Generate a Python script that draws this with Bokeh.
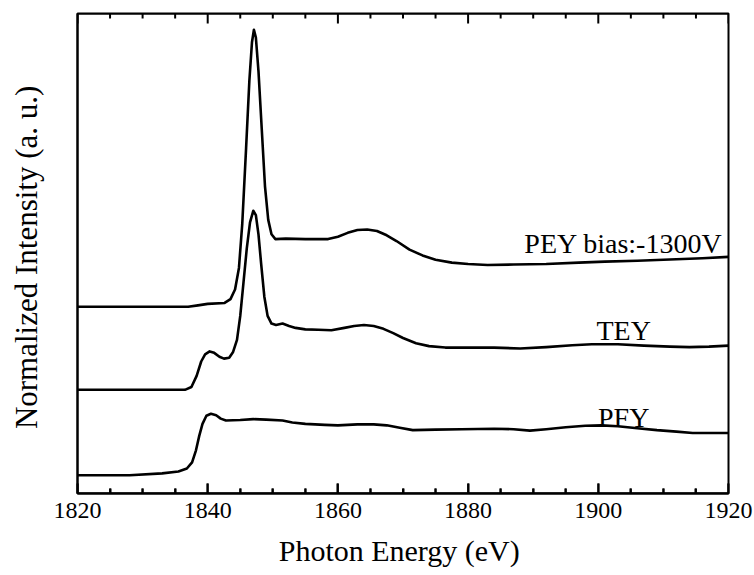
import math
from bokeh.plotting import figure
from bokeh.models import Range1d, FixedTicker, Label
from bokeh.embed import file_html
from bokeh.resources import INLINE

# ---- data (normalized intensity, fraction of plot height) ----
pey_x = [1820, 1837, 1838.5, 1840, 1842.6, 1843.5, 1844.2, 1844.8, 1845.3, 1845.9, 1846.4,
         1846.8, 1847.1, 1847.4, 1847.8, 1848.3, 1848.8, 1849.3, 1849.8, 1850.4, 1852, 1855,
         1858.5, 1860, 1861.5, 1863, 1864.5, 1866, 1867.5, 1869, 1871, 1873, 1875, 1877.5,
         1880, 1883, 1887, 1892, 1897, 1901, 1906, 1912, 1916, 1920]
pey_y = [0.389, 0.389, 0.392, 0.395, 0.397, 0.405, 0.425, 0.47, 0.56, 0.72, 0.86,
         0.94, 0.966, 0.95, 0.88, 0.76, 0.64, 0.57, 0.54, 0.53, 0.531, 0.530,
         0.530, 0.535, 0.543, 0.549, 0.550, 0.547, 0.538, 0.526, 0.508, 0.496, 0.487, 0.481,
         0.478, 0.476, 0.477, 0.478, 0.481, 0.483, 0.485, 0.488, 0.490, 0.493]

tey_x = [1820, 1836.5, 1837.5, 1838.3, 1839, 1839.6, 1840.3, 1841, 1841.8, 1842.5, 1843.3,
         1843.9, 1844.5, 1845, 1845.5, 1846, 1846.5, 1847.0, 1847.4, 1847.8, 1848.2, 1848.7,
         1849.2, 1849.8, 1850.5, 1851.5, 1852.5, 1853.5, 1855, 1857, 1859, 1861, 1862.5,
         1864, 1865.5, 1867, 1868.5, 1870, 1872, 1874, 1876.5, 1880, 1884, 1888, 1892,
         1896, 1899, 1903, 1907, 1911, 1914, 1917, 1920]
tey_y = [0.216, 0.216, 0.222, 0.245, 0.275, 0.29, 0.296, 0.293, 0.285, 0.281, 0.283,
         0.295, 0.32, 0.37, 0.44, 0.51, 0.565, 0.589, 0.58, 0.54, 0.48, 0.41,
         0.37, 0.354, 0.351, 0.354, 0.349, 0.345, 0.342, 0.341, 0.340, 0.345, 0.349,
         0.351, 0.349, 0.343, 0.334, 0.324, 0.313, 0.307, 0.304, 0.304, 0.304, 0.302, 0.305,
         0.309, 0.311, 0.311, 0.308, 0.306, 0.305, 0.306, 0.308]

pfy_x = [1820, 1828, 1833, 1835.5, 1836.8, 1837.6, 1838.2, 1838.7, 1839.2, 1839.8, 1840.5,
         1841.3, 1842, 1842.8, 1845, 1847, 1849, 1851.5, 1853, 1855, 1858, 1860, 1863,
         1865.5, 1867.5, 1869.5, 1871.5, 1875, 1879, 1884, 1887, 1889.5, 1892, 1895, 1898,
         1900.5, 1903, 1906, 1909, 1912, 1914.5, 1920]
pfy_y = [0.038, 0.038, 0.042, 0.046, 0.052, 0.065, 0.09, 0.12, 0.145, 0.162, 0.166,
         0.163, 0.156, 0.152, 0.153, 0.155, 0.154, 0.152, 0.148, 0.145, 0.143, 0.142, 0.144,
         0.144, 0.142, 0.137, 0.132, 0.133, 0.134, 0.135, 0.134, 0.131, 0.134, 0.138, 0.141,
         0.142, 0.140, 0.136, 0.132, 0.129, 0.126, 0.126]

series_labels = ["PEY bias:-1300V", "TEY", "PFY"]
label_x = [1919.1, 1903.9, 1903.9]
label_y = [0.521, 0.340, 0.158]
label_align = ["right", "center", "center"]

x_title = "Photon Energy  (eV)"
y_title = "Normalized Intensity  (a. u.)"

x_min, x_max = 1820, 1920
major_ticks = [1820, 1840, 1860, 1880, 1900, 1920]
minor_step = 5
minor_ticks = [v for v in range(x_min, x_max + 1, minor_step) if v not in major_ticks]

FONT = "Liberation Serif"
MAJOR_LEN = 10 / 480.0   # tick lengths, as a fraction of the frame height
MINOR_LEN = 5 / 480.0

p = figure(width=754, height=575, output_backend="svg", toolbar_location=None,
           x_range=Range1d(x_min, x_max), y_range=Range1d(0, 1),
           min_border_left=77, min_border_right=26, min_border_top=13, min_border_bottom=82)
p.background_fill_color = "white"
p.border_fill_color = "white"
p.grid.visible = False
p.outline_line_color = "black"
p.outline_line_width = 2

for xs, ys in [(pey_x, pey_y), (tey_x, tey_y), (pfy_x, pfy_y)]:
    p.line(xs, ys, line_color="black", line_width=2.6, line_join="round")

# inward ticks: one continuous comb-shaped polyline along each edge
all_ticks = sorted([(t, MAJOR_LEN) for t in major_ticks] + [(t, MINOR_LEN) for t in minor_ticks])
for base, sign in [(0.0, 1.0), (1.0, -1.0)]:
    cx, cy = [], []
    for t, ln in all_ticks:
        cx += [t, t, t]
        cy += [base, base + sign * ln, base]
    p.line(cx, cy, line_color="black", line_width=2, line_join="miter")

# bottom axis
xa = p.xaxis[0]
xa.ticker = FixedTicker(ticks=major_ticks, minor_ticks=minor_ticks)
xa.major_tick_in = 10
xa.major_tick_out = 0
xa.minor_tick_in = 5
xa.minor_tick_out = 0
xa.major_tick_line_width = 2
xa.minor_tick_line_width = 2
xa.axis_line_width = 2
xa.axis_line_color = "black"
xa.major_label_text_font = FONT
xa.major_label_text_font_size = "24px"
xa.major_label_text_color = "black"
xa.major_label_standoff = 9
xa.axis_label = x_title
xa.axis_label_text_font = FONT
xa.axis_label_text_font_size = "30px"
xa.axis_label_text_font_style = "normal"
xa.axis_label_text_color = "black"
xa.axis_label_standoff = 13

# left axis (no ticks, no labels)
ya = p.yaxis[0]
ya.ticker = FixedTicker(ticks=[])
ya.axis_line_width = 2
ya.axis_line_color = "black"
ya.major_tick_in = 0
ya.major_tick_out = 0
ya.minor_tick_in = 0
ya.minor_tick_out = 0
ya.axis_label = y_title
ya.axis_label_text_font = FONT
ya.axis_label_text_font_size = "31px"
ya.axis_label_text_font_style = "normal"
ya.axis_label_text_color = "black"
ya.axis_label_standoff = 34

for t, lx, ly, al in zip(series_labels, label_x, label_y, label_align):
    p.add_layout(Label(x=lx, y=ly, text=t, text_font=FONT, text_font_size="28px",
                       text_align=al, text_baseline="alphabetic", text_color="black"))

open("out.html", "w").write(file_html(p, INLINE))
